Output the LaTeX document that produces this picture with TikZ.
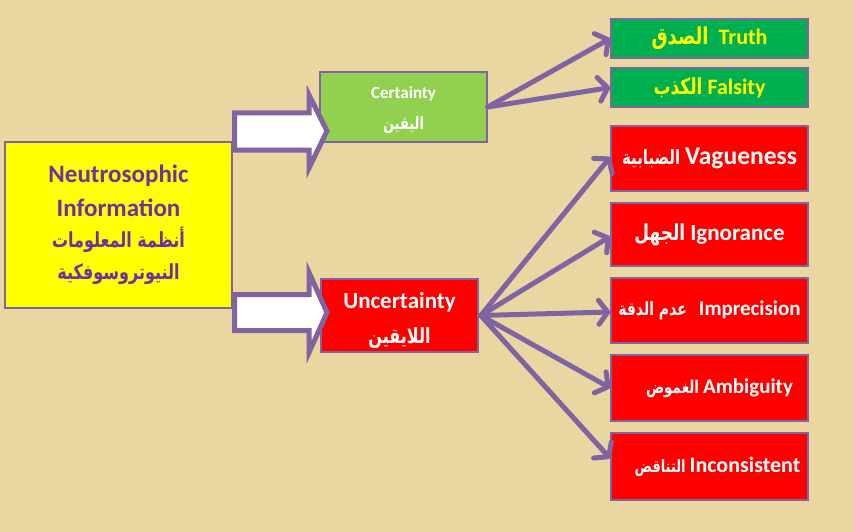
\documentclass[tikz,border=0pt]{standalone}
\usepackage{fontspec}
\usepackage{graphicx}
\usetikzlibrary{arrows.meta}
\TeXXeTstate=1
\newfontfamily\enfont{Carlito}
\newfontfamily\arfont[Script=Arabic]{DejaVu Sans}
\definecolor{bgtan}{RGB}{234,214,160}
\definecolor{apurple}{RGB}{128,100,162}
\definecolor{tpurple}{RGB}{112,48,160}
\definecolor{glight}{RGB}{146,208,80}
\definecolor{gdark}{RGB}{0,176,80}
\definecolor{rred}{RGB}{255,0,0}
\definecolor{yyel}{RGB}{255,255,0}
\newcommand\ENG[2]{{\enfont\bfseries\fontsize{#1}{#1}\selectfont #2}}
\newcommand\ARsz[1]{\arfont\bfseries\fontsize{#1}{#1}\selectfont}
\newcommand\TALL{\scalebox{1}[1.3]}
\begin{document}
\begin{tikzpicture}[x=1pt,y=-1pt,
  box/.style={draw=apurple, line width=1.5pt, inner sep=0pt, align=center},
  itembox/.style={box, minimum width=197pt},
  conn/.style={draw=apurple, line width=5pt, line cap=round,
    -{Straight Barb[length=9pt,width=24pt,round]}},
  blockarrow/.style={draw=apurple, line width=5pt, fill=white, line join=miter}
]
\fill[bgtan] (0,0) rectangle (853,532);
\useasboundingbox (0,0) rectangle (853,532);

% main box
\node[box, fill=yyel, text=tpurple, minimum width=227pt, minimum height=166pt] (info) at (118.5,225)
  {\ENG{25}{Neutrosophic}\\[11pt]\ENG{25}{Information}\\[10pt]\TALL{\ARsz{16}\beginR أنظمة المعلومات\endR}\\[10pt]\TALL{\ARsz{16}\beginR النيوتروسوفكية\endR}};

% middle boxes
\node[box, fill=glight, text=white, minimum width=167pt, minimum height=70pt] (cert) at (403.5,107)
  {\rule{0pt}{18pt}\ENG{17}{Certainty}\\[14pt]\TALL{\ARsz{13}\beginR اليقين\endR}};
\node[box, fill=rred, text=white, minimum width=157pt, minimum height=73pt] (uncert) at (399.5,315.5)
  {\rule{0pt}{26pt}\ENG{23}{Uncertainty}\\[14pt]\TALL{\ARsz{16}\beginR اللايقين\endR}};

% right boxes
\node[itembox, fill=gdark, text=yyel, minimum height=39pt] (truth) at (709.5,38.5)
  {\TALL{\ARsz{18}\beginR الصدق\endR}\hspace{10pt}\ENG{22}{Truth}};
\node[itembox, fill=gdark, text=yyel, minimum height=39pt] (fals) at (709.5,87.5)
  {\TALL{\ARsz{17}\beginR الكذب\endR}\hspace{5pt}\ENG{22}{Falsity}};
\node[itembox, fill=rred, text=white, minimum height=65pt] (vag) at (709.5,158.5)
  {\TALL{\ARsz{15}\beginR الضبابية\endR}\hspace{5pt}\ENG{25.5}{Vagueness}};
\node[itembox, fill=rred, text=white, minimum height=63pt] (ign) at (709.5,234.5)
  {\TALL{\ARsz{17}\beginR الجهل\endR}\hspace{5pt}\ENG{23}{Ignorance}};
\node[itembox, fill=rred, text=white, minimum height=65pt] (imp) at (709.5,310.5)
  {\TALL{\ARsz{14}\beginR عدم الدقة\endR}\hspace{12pt}\ENG{21}{Imprecision}};
\node[itembox, fill=rred, text=white, minimum height=66pt] (amb) at (709.5,388)
  {\hspace*{20pt}\TALL{\ARsz{13.5}\beginR الغموض\endR}\hspace{4pt}\ENG{21}{Ambiguity}};
\node[itembox, fill=rred, text=white, minimum height=67pt] (inc) at (709.5,466.5)
  {\hspace*{16pt}\TALL{\ARsz{13}\beginR التناقض\endR}\hspace{4pt}\ENG{22}{Inconsistent}};

% block arrows
\draw[blockarrow] (234.5,113) -- (309,113) -- (309,95) -- (327,131) -- (309,168) -- (309,150) -- (234.5,150) -- cycle;
\draw[blockarrow] (234.5,294.5) -- (309,294.5) -- (309,272.5) -- (327,312.5) -- (309,352.5) -- (309,330.5) -- (234.5,330.5) -- cycle;

% connectors
\draw[conn] (cert.east) -- (truth.west);
\draw[conn] (cert.east) -- (fals.west);
\coordinate (fan) at ([xshift=2pt]uncert.east);
\draw[conn] (fan) -- ([yshift=1.5pt]vag.west);
\draw[conn] (fan) -- ([yshift=-2pt]ign.west);
\draw[conn] (fan) -- ([yshift=-1.5pt]imp.west);
\draw[conn] (fan) -- (amb.west);
\draw[conn] (fan) -- ([yshift=8pt]inc.west);
\end{tikzpicture}
\end{document}
